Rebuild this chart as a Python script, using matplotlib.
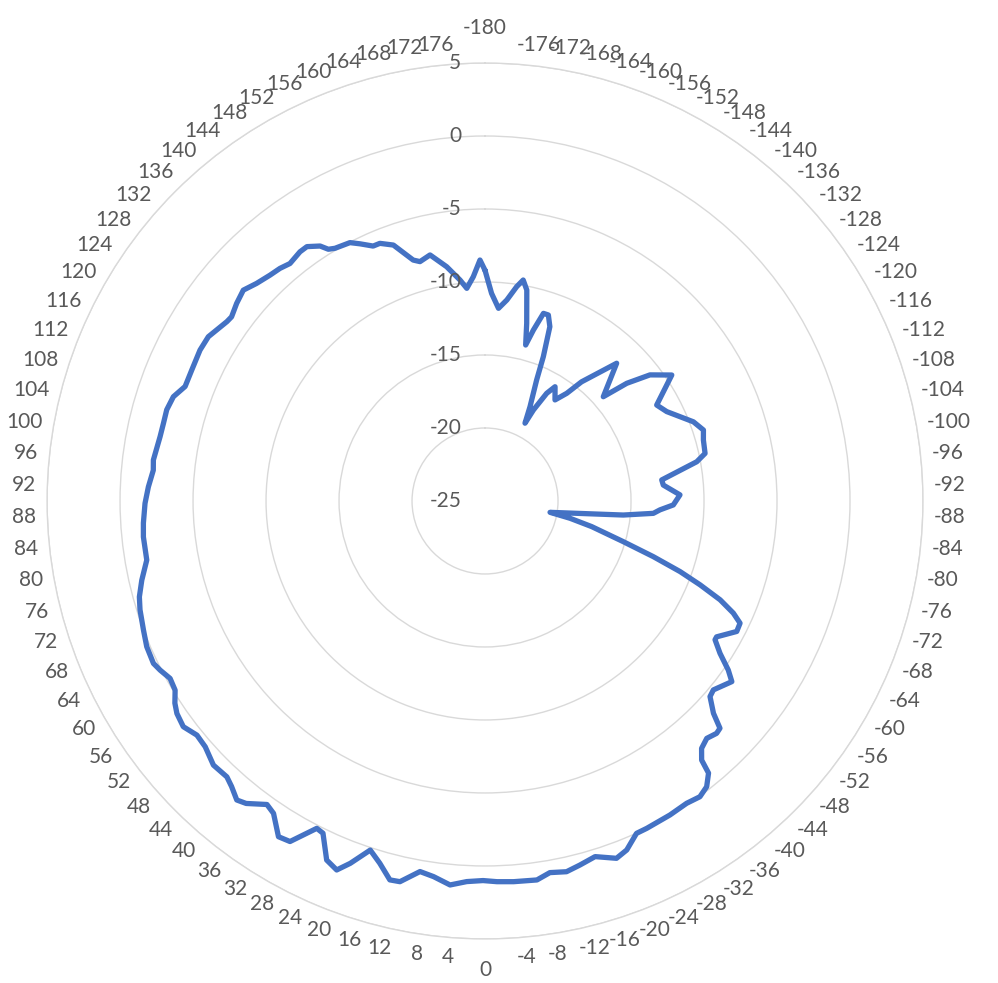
import numpy as np
import matplotlib
matplotlib.use("Agg")
import matplotlib.pyplot as plt

# angle (deg) and gain (dB)
angle = [-180, -178.2, -176, -173.8, -171.6, -170.2, -168.8, -166.8, -165.4, -164.2,
         -162.7, -161.2, -159.6, -158, -156.9, -154.5, -152.8, -152, -150.2, -148.5,
         -145.3, -142.8, -141, -136.3, -131.4, -129.7, -127.4, -124, -119.2, -116.2,
         -110.8, -108, -105.6, -102.2, -100.5, -96.8, -95.1, -91.8, -88.8, -87.1,
         -85.8, -84.2, -82.1, -80.1, -78.5, -76.5, -73.6, -71.7, -70.1, -68.7,
         -67.2, -65.7, -64.4, -62.6, -59.6, -58.9, -57.05, -55.2, -53.8, -50.4,
         -49, -47.1, -45.95, -44.9, -43.05, -41.2, -39.9, -39.4, -37.8, -36,
         -33.7, -30.5, -26.3, -24.5, -22.1, -20.2, -17.2, -14.6, -12.4, -9.9,
         -7.8, -4.3, -1.8, 0.3, 2.75, 5.2, 7.8, 9.95, 12.6, 14.1,
         16.2, 18.2, 20.4, 21.9, 23.8, 26, 27.2, 29.8, 31.6, 34.1,
         35.7, 38.3, 39.7, 41.6, 43.1, 45.8, 48.7, 50.9, 53.2, 55.4,
         56.9, 58.6, 60.6, 62.5, 63.9, 66.7, 69.3, 72.5, 74.5, 77,
         80.1, 84, 86.3, 89.6, 92.4, 95.3, 97.05, 101.2, 103.6, 106,
         108.5, 110.9, 114.1, 117.9, 120.7, 124.8, 126, 128.5, 131.1, 133.6,
         136.4, 138.6, 140.6, 143.4, 145, 147.1, 148.1, 149.3, 152.4, 154.1,
         156.3, 157.8, 160.3, 163.4, 164.8, 167.4, 170.7, 173.55, 175.1, 177,
         178.8]
gain = [-9.2, -10.77, -11.77, -11.15, -10.16, -9.64, -10.27, -12.5, -13.96, -12.83,
        -11.54, -11.54, -12.26, -14.34, -15.99, -17.84, -19.01, -17.94, -16.5, -15.82,
        -16.58, -15.74, -14.5, -11.95, -14.2, -12.38, -10.78, -9.57, -11.53, -11.13,
        -9.73, -9.27, -9.47, -9.58, -10.25, -12.81, -12.74, -11.64, -12.1, -13.0,
        -13.44, -15.48, -18.89, -20.48, -19.06, -17.49, -15.12, -12.86, -10.79, -9.19,
        -7.53, -6.34, -5.63, -5.58, -6.61, -6.6, -5.82, -4.71, -4.05, -4.7,
        -4.58, -3.64, -2.61, -2.53, -2.75, -2.48, -1.87, -0.88, -0.23, 0.04,
        -0.11, -0.04, 0.01, 0.02, 0.8, 1.08, 0.5, 0.77, 1.0, 0.84,
        1.2, 1.15, 1.09, 1.0, 1.1, 1.41, 0.97, 0.77, 1.72, 1.76,
        0.84, 0.17, 1.48, 2.24, 1.88, 0.32, 0.21, 1.88, 2.0, 0.84,
        0.6, 1.4, 1.62, 1.15, 0.88, 0.95, 0.51, 0.43, 0.81, 0.64,
        0.36, -0.13, -0.24, 0.09, 0.29, 0.23, 0.01, -0.22, -0.43, -0.87,
        -1.48, -1.47, -1.55, -1.71, -1.92, -2.18, -2.11, -2.31, -2.34, -2.32,
        -2.49, -3.01, -3.0, -2.91, -2.96, -3.47, -3.54, -3.26, -3.03, -3.39,
        -3.64, -3.76, -3.95, -3.74, -3.73, -4.2, -4.69, -4.87, -5.03, -5.42,
        -5.93, -5.94, -6.38, -7.78, -8.01, -7.73, -8.74, -9.77, -10.38, -9.62,
        -8.49]

cat_deg = list(range(-180, 180, 4))
cat_labels = [str(d) for d in cat_deg]
r_ticks = [-25, -20, -15, -10, -5, 0, 5]

plt.rcParams['font.family'] = ['Lato', 'DejaVu Sans']
txt_color = '#595959'
grid_color = '#d9d9d9'

fig = plt.figure(figsize=(9.98, 9.83), dpi=100)
ax = fig.add_axes([0.0471, 0.0448, 0.8778, 0.8911], projection='polar')
ax.set_theta_zero_location('N')
ax.set_theta_direction(-1)

th = np.deg2rad(np.array(angle + angle[:1]) + 180)
rr = np.array(gain + gain[:1])
ax.plot(th, rr, color='#4472C4', lw=3.8, solid_joinstyle='round', solid_capstyle='round')

ax.set_ylim(-25, 5)
ax.set_yticks(r_ticks)
ax.set_yticklabels([])
ax.yaxis.grid(True, color=grid_color, lw=1.0)
ax.xaxis.grid(False)
ax.spines['polar'].set_color(grid_color)
ax.spines['polar'].set_linewidth(1.0)

ax.set_xticks(np.deg2rad(np.array(cat_deg) + 180))
ax.set_xticklabels([])
ax.tick_params(axis='x', length=0)

# category labels placed like Excel: left/right aligned by side,
# vertical shift growing towards the top and bottom
px = 0.72  # points per pixel at dpi 100
half_h = 8
for d, lab in zip(cat_deg, cat_labels):
    phi = (d + 180) % 360
    s, c = np.sin(np.deg2rad(phi)), np.cos(np.deg2rad(phi))
    if phi == 0:
        ha, off = 'center', (0, 35)
    elif phi == 180:
        ha, off = 'center', (0, -31)
    else:
        ha = 'left' if phi < 180 else 'right'
        off = (11 * s, 11 * c + half_h * c)
    ax.annotate(lab, xy=(np.deg2rad(phi), 5), xytext=(off[0] * px, off[1] * px),
                textcoords='offset points', ha=ha, va='center', fontsize=15,
                color=txt_color, annotation_clip=False)

for v in r_ticks:
    ax.annotate(str(v), xy=(0, v), xytext=(-17, 0), textcoords='offset points',
                ha='right', va='center', fontsize=15, color=txt_color)

fig.savefig('out.png', dpi=100)
